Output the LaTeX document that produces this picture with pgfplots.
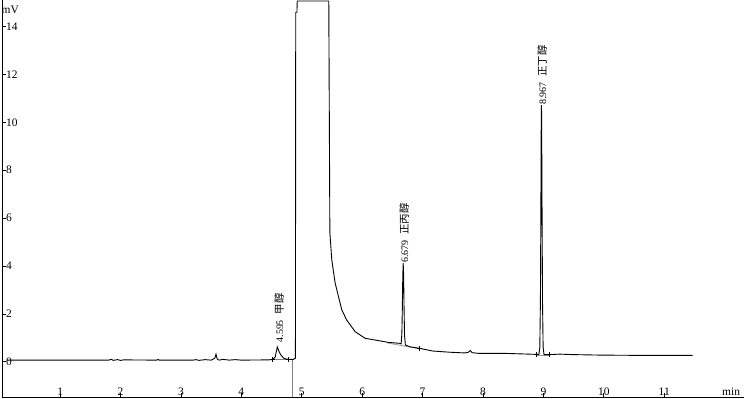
\documentclass[border=0pt]{standalone}
\usepackage{pgfplots}
\pgfplotsset{compat=1.18}
\usepackage{fontspec}
\setmainfont{Liberation Serif}
\newfontfamily\cjk{Noto Sans CJK SC}
\begin{document}
\begin{tikzpicture}
\path[use as bounding box] (0,0) rectangle (744bp,399bp);
\begin{axis}[
  at={(2bp,2bp)}, anchor=south west,
  scale only axis, width=742bp, height=397bp,
  xmin=0.038, xmax=12.32, ymin=-1.47, ymax=15.11,
  axis x line=bottom, axis y line=left,
  axis line style={-, line width=0.9bp, black},
  xtick={1,2,3,4,5,6,7,8,9,10,11},
  ytick={0,2,4,6,8,10,12,14},
  tick align=inside, major tick length=4bp,
  tick style={black, line width=0.8bp},
  /pgf/number format/assume math mode=true,
  tick label style={font=\fontsize{11.5}{13}\selectfont},
  xticklabel style={anchor=south, inner sep=0pt, yshift=1.5bp},
  yticklabel style={anchor=west, inner sep=0pt, xshift=4bp},
  clip=true,
]
% integration baselines
\addplot[gray, line width=0.8bp] coordinates {(4.52,0.08) (4.85,0.08) (4.85,-1.47)};
\addplot[gray!80, line width=0.8bp] coordinates {(6.41,0.79) (6.953,0.54)};
\addplot[gray!80, line width=0.8bp] coordinates {(8.883,0.27) (9.09,0.27)};
% chromatogram
\addplot[black, line width=0.9bp] coordinates {
(0.12,0.07) (1.0,0.07) (1.80,0.07) (1.85,0.10) (1.88,0.06) (1.95,0.09) (2.0,0.06) (2.05,0.08)
(2.6,0.07) (2.62,0.10) (2.64,0.07) (3.2,0.07) (3.25,0.09) (3.3,0.06) (3.4,0.09) (3.5,0.07)
(3.56,0.15) (3.58,0.32) (3.60,0.12) (3.63,0.07) (3.7,0.10) (3.8,0.07) (3.9,0.09) (4.0,0.07)
(4.45,0.08) (4.52,0.10) (4.56,0.20) (4.595,0.62) (4.62,0.45) (4.65,0.30) (4.70,0.15) (4.77,0.10)
(4.86,0.10) (4.895,0.15) (4.90,14.6) (4.92,14.6) (4.925,15.07) (5.447,15.07) (5.465,5.4)
(5.497,4.25) (5.552,3.29) (5.608,2.72) (5.663,2.16) (5.745,1.74) (5.883,1.26) (6.048,0.98)
(6.213,0.91) (6.435,0.81) (6.627,0.77) (6.645,0.75) (6.657,1.2) (6.665,2.3) (6.672,3.6)
(6.679,4.12) (6.686,3.6) (6.693,2.3) (6.701,1.1) (6.715,0.70) (6.787,0.63) (6.953,0.56)
(7.168,0.45) (7.449,0.40) (7.70,0.37) (7.76,0.40) (7.79,0.47) (7.82,0.38) (7.945,0.35)
(8.387,0.35) (8.883,0.31) (8.925,0.31) (8.940,0.6) (8.950,2.5) (8.958,6.5) (8.964,10.3)
(8.967,10.72) (8.970,10.3) (8.977,6.5) (8.985,2.5) (8.995,0.6) (9.01,0.30) (9.1,0.30)
(9.27,0.32) (9.5,0.30) (9.93,0.28) (10.5,0.27) (11.47,0.27)
};
% integration markers
\addplot[only marks, mark=+, mark size=2.5bp, black, line width=0.7bp] coordinates {
(4.52,0.10) (4.78,0.10) (6.953,0.56) (8.883,0.31) (9.09,0.30)
};
% peak labels
\node[rotate=90, anchor=west, inner sep=0pt, font=\fontsize{10}{12}\selectfont]
  at (axis cs:4.625,0.8) {4.595\hspace{6pt}{\cjk\fontsize{10.5}{12}\selectfont 甲醇}};
\node[rotate=90, anchor=west, inner sep=0pt, font=\fontsize{10}{12}\selectfont]
  at (axis cs:6.695,4.12) {6.679\hspace{6pt}{\cjk\fontsize{10.5}{12}\selectfont 正丙醇}};
\node[rotate=90, anchor=west, inner sep=0pt, font=\fontsize{10}{12}\selectfont]
  at (axis cs:8.98,10.72) {8.967\hspace{6pt}{\cjk\fontsize{10.5}{12}\selectfont 正丁醇}};
% axis unit labels
\node[anchor=north west, inner sep=0pt, font=\fontsize{11.5}{13}\selectfont]
  at (rel axis cs:0,1) [xshift=-0.5bp, yshift=-5.5bp] {mV};
\node[anchor=base west, inner sep=0pt, font=\fontsize{11.5}{13}\selectfont]
  at (rel axis cs:0.9704,0) [yshift=2bp] {min};
\end{axis}
\end{tikzpicture}
\end{document}
